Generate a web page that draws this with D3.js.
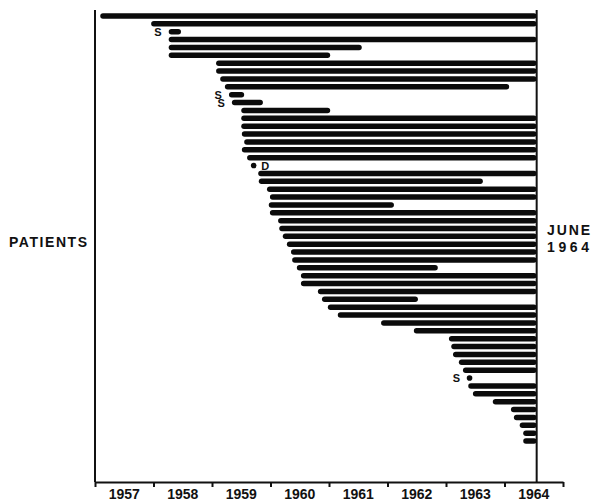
<!DOCTYPE html>
<html>
<head>
<meta charset="utf-8">
<script src="https://cdn.jsdelivr.net/npm/d3@7"></script>
<style>
  body { margin: 0; background: #fff; }
  svg { display: block; }
  text { font-family: "Liberation Sans", Arial, sans-serif; font-weight: bold; fill: #111; }
</style>
</head>
<body>
<script>
// follow-up date (vertical line on the right)
const censorYear = 1964.55;

// start of each patient's line, in decimal years (top row first)
const starts = [
  1957.09, 1957.96, 1958.26, 1958.26, 1958.26, 1958.26, 1959.07, 1959.07, 1959.14, 1959.22,
  1959.29, 1959.34, 1959.50, 1959.50, 1959.50, 1959.51, 1959.55, 1959.51, 1959.60, 1959.67,
  1959.79, 1959.80, 1959.94, 1959.99, 1959.97, 1959.99, 1960.13, 1960.15, 1960.21, 1960.28,
  1960.35, 1960.37, 1960.45, 1960.52, 1960.52, 1960.81, 1960.88, 1960.98, 1961.15, 1961.89,
  1962.45, 1963.05, 1963.09, 1963.12, 1963.22, 1963.29, 1963.36, 1963.38, 1963.46, 1963.80,
  1964.11, 1964.16, 1964.26, 1964.32, 1964.32
];

// end of each line; null = still followed at June 1964
const ends = [
  null, null, 1958.47, null, 1961.56, 1961.02, null, null, null, 1964.08,
  1959.55, 1959.87, 1961.02, null, null, null, null, null, null, 1959.67,
  null, 1963.63, null, null, 1962.11, null, null, null, null, null,
  null, null, 1962.86, null, null, null, 1962.52, null, null, null,
  null, null, null, null, null, null, 1963.36, null, null, null,
  null, null, null, null, null
];

// letters beside some lines
const marks = [
  "", "", "S", "", "", "", "", "", "", "",
  "S", "S", "", "", "", "", "", "", "", "D",
  "", "", "", "", "", "", "", "", "", "",
  "", "", "", "", "", "", "", "", "", "",
  "", "", "", "", "", "", "S", "", "", "",
  "", "", "", "", ""
];

const yearTicks = d3.range(1957, 1966);
const yearLabels = ["1957", "1958", "1959", "1960", "1961", "1962", "1963", "1964"];

const width = 597, height = 502;
const axisY = 482, topY = 10;

let svg = d3.select("body").append("svg")
    .attr("width", width)
    .attr("height", height);

let x = d3.scaleLinear().domain([1957, 1965]).range([95, 563]);
let y = d3.scalePoint().domain(d3.range(starts.length)).range([16, 441]);

const barH = 5.5;

let rows = starts.map(function (s, i) {
    return { i: i, start: s, end: ends[i] == null ? censorYear : ends[i], mark: marks[i] };
});

// bars (a bar whose end equals its start is drawn as a dot)
svg.append("g").selectAll("rect")
    .data(rows.filter(d => d.end > d.start))
    .enter().append("rect")
    .attr("x", d => x(d.start))
    .attr("y", d => y(d.i) - barH / 2)
    .attr("width", d => x(d.end) - x(d.start))
    .attr("height", barH)
    .attr("rx", 2.75)
    .attr("fill", "#0b0b0b");

svg.append("g").selectAll("circle")
    .data(rows.filter(d => d.end <= d.start))
    .enter().append("circle")
    .attr("cx", d => x(d.start) + 2.5)
    .attr("cy", d => y(d.i))
    .attr("r", 2.8)
    .attr("fill", "#0b0b0b");

// S / D letters
svg.append("g").selectAll("text")
    .data(rows.filter(d => d.mark !== ""))
    .enter().append("text")
    .attr("x", d => d.mark == "D" ? x(d.start) + 10 : x(d.start) - 7)
    .attr("y", d => y(d.i) + 4)
    .attr("text-anchor", d => d.mark == "D" ? "start" : "end")
    .style("font-size", "11px")
    .text(d => d.mark);

// frame: left line and June 1964 line
svg.append("line")
    .attr("x1", x(1957)).attr("x2", x(1957))
    .attr("y1", topY).attr("y2", axisY)
    .attr("stroke", "#111").attr("stroke-width", 2);

svg.append("line")
    .attr("x1", x(censorYear)).attr("x2", x(censorYear))
    .attr("y1", topY).attr("y2", axisY)
    .attr("stroke", "#111").attr("stroke-width", 2);

// x axis with ticks at year boundaries
let axis = svg.append("g")
    .attr("transform", "translate(0," + axisY + ")")
    .call(d3.axisBottom(x).tickValues(yearTicks).tickFormat("").tickSize(5).tickSizeOuter(0));
axis.select(".domain").attr("stroke", "#111").attr("stroke-width", 2);
axis.selectAll(".tick line").attr("stroke", "#111").attr("stroke-width", 2);

svg.append("g").selectAll("text")
    .data(yearLabels)
    .enter().append("text")
    .attr("x", d => x(+d + 0.5))
    .attr("y", 499)
    .attr("text-anchor", "middle")
    .style("font-size", "14px")
    .text(d => d);

svg.append("text")
    .attr("x", 9).attr("y", 247)
    .attr("textLength", 78)
    .style("font-size", "14px")
    .text("PATIENTS");

svg.append("text")
    .attr("x", 547).attr("y", 235)
    .attr("textLength", 43)
    .style("font-size", "14px")
    .text("JUNE");

svg.append("text")
    .attr("x", 547).attr("y", 252)
    .attr("textLength", 42)
    .style("font-size", "14px")
    .text("1964");
</script>
</body>
</html>
